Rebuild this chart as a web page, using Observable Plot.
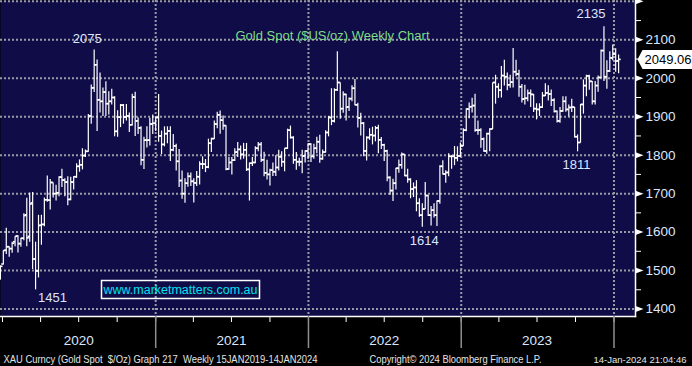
<!DOCTYPE html>
<html>
<head>
<meta charset="utf-8">
<script src="https://cdn.jsdelivr.net/npm/d3@7"></script>
<script src="https://cdn.jsdelivr.net/npm/@observablehq/plot@0.6"></script>
<style>
  html, body { margin: 0; padding: 0; background: #000; }
  #chart svg { display: block; }
</style>
</head>
<body>
<div id="chart"></div>
<script>
// Weekly OHLC bars [open, high, low, close], one per week (week ending Friday)
const bars2019 = [[1478,1514,1477,1511]];
const bars2020 = [
  [1517,1553,1516,1552],[1553,1611,1543,1562],[1562,1563,1536,1557],[1557,1575,1546,1571],[1575,1589,1563,1589],
  [1590,1592,1547,1570],[1570,1585,1562,1584],[1584,1649,1579,1643],[1645,1689,1563,1585],
  [1589,1703,1575,1673],[1676,1704,1504,1530],[1530,1575,1451,1499],[1499,1645,1482,1617],
  [1618,1645,1567,1620],[1620,1690,1615,1684],[1684,1747,1679,1683],[1683,1738,1659,1729],
  [1729,1729,1690,1700],[1700,1723,1682,1702],[1702,1745,1693,1743],[1743,1765,1717,1735],[1735,1740,1693,1730],
  [1730,1745,1670,1685],[1685,1744,1683,1730],[1730,1745,1711,1744],[1744,1779,1741,1771],
  [1771,1789,1757,1775],[1775,1818,1763,1799],[1799,1815,1795,1810],[1810,1907,1809,1902],[1902,1984,1882,1975],
  [1975,2075,1964,2035],[2035,2049,1863,1944],[1944,2015,1911,1940],[1940,1976,1902,1964],
  [1964,1992,1902,1934],[1934,1966,1906,1940],[1940,1973,1932,1950],[1950,1953,1849,1862],
  [1862,1917,1848,1899],[1899,1933,1873,1930],[1930,1933,1882,1899],[1899,1933,1890,1902],[1902,1911,1860,1879],
  [1879,1960,1877,1951],[1951,1965,1850,1889],[1889,1898,1855,1871],[1871,1875,1774,1788],
  [1788,1848,1764,1839],[1839,1875,1820,1839],[1839,1897,1825,1881],[1881,1906,1855,1883]
];
const bars2021 = [
  [1883,1900,1863,1898],[1898,1959,1835,1850],[1850,1864,1803,1828],[1828,1875,1823,1856],[1856,1875,1831,1863],
  [1863,1875,1785,1814],[1814,1855,1810,1824],[1824,1830,1760,1784],[1784,1816,1717,1734],
  [1734,1760,1687,1700],[1700,1740,1676,1727],[1727,1755,1718,1745],[1745,1755,1720,1732],
  [1732,1740,1677,1728],[1728,1759,1720,1744],[1744,1784,1724,1777],[1777,1797,1764,1777],[1777,1790,1756,1769],
  [1769,1843,1766,1831],[1831,1845,1808,1843],[1843,1890,1842,1881],[1881,1913,1870,1905],
  [1905,1916,1856,1891],[1891,1903,1866,1877],[1877,1878,1761,1764],[1764,1795,1762,1781],
  [1781,1795,1750,1787],[1787,1818,1785,1808],[1808,1834,1795,1815],[1815,1825,1789,1802],[1802,1832,1791,1814],
  [1814,1832,1759,1763],[1763,1781,1682,1779],[1779,1795,1772,1781],[1781,1823,1779,1818],
  [1818,1834,1810,1828],[1828,1834,1782,1788],[1788,1809,1745,1754],[1754,1788,1737,1750],
  [1750,1765,1721,1761],[1761,1781,1746,1757],[1757,1800,1746,1768],[1768,1814,1760,1796],[1796,1810,1770,1783],
  [1783,1818,1758,1818],[1818,1869,1816,1865],[1865,1877,1843,1846],[1846,1849,1778,1788],
  [1788,1808,1762,1783],[1783,1793,1771,1783],[1783,1814,1753,1798],[1798,1813,1781,1811],[1811,1831,1790,1829]
];
const bars2022 = [
  [1829,1831,1782,1797],[1797,1830,1791,1818],[1818,1848,1805,1835],[1835,1853,1780,1791],
  [1791,1815,1788,1808],[1808,1865,1807,1859],[1859,1902,1849,1898],[1898,1974,1878,1889],
  [1889,1974,1885,1970],[1970,2070,1967,1989],[1989,1989,1895,1921],[1921,1966,1910,1958],
  [1958,1960,1890,1925],[1925,1950,1915,1947],[1947,1982,1940,1974],[1974,1998,1930,1931],[1931,1936,1872,1897],
  [1897,1910,1851,1883],[1883,1886,1797,1811],[1811,1849,1786,1846],[1846,1870,1840,1853],
  [1853,1874,1828,1851],[1851,1876,1836,1871],[1871,1879,1805,1840],[1840,1847,1816,1827],
  [1827,1830,1785,1811],[1811,1814,1732,1742],[1742,1745,1697,1708],[1708,1739,1681,1727],[1727,1767,1711,1766],
  [1766,1789,1754,1775],[1775,1807,1765,1802],[1802,1802,1745,1747],[1747,1765,1728,1737],
  [1737,1740,1688,1712],[1712,1729,1691,1716],[1716,1735,1654,1675],[1675,1688,1640,1644],[1644,1675,1614,1660],
  [1660,1730,1660,1695],[1695,1697,1642,1644],[1644,1668,1617,1657],[1657,1675,1638,1644],
  [1644,1682,1616,1681],[1681,1774,1674,1771],[1771,1787,1750,1751],[1751,1761,1728,1755],
  [1755,1805,1745,1797],[1797,1800,1765,1797],[1797,1824,1774,1793],[1793,1823,1784,1798],[1798,1833,1795,1824]
];
const bars2023 = [
  [1824,1870,1824,1865],[1865,1922,1862,1920],[1920,1937,1896,1926],[1926,1949,1911,1929],
  [1929,1960,1861,1865],[1865,1890,1853,1865],[1865,1870,1819,1842],[1842,1846,1809,1811],
  [1811,1858,1804,1856],[1856,1870,1810,1868],[1868,1989,1868,1989],[1989,2009,1934,1978],[1978,1987,1949,1969],
  [1969,2032,1950,2007],[2007,2048,1981,2004],[2004,2015,1969,1983],[1983,2009,1975,1990],
  [1990,2079,1976,2017],[2017,2048,2005,2011],[2011,2022,1952,1978],[1978,1985,1937,1946],
  [1946,1983,1932,1948],[1948,1971,1940,1961],[1961,1971,1925,1958],[1958,1959,1912,1921],[1921,1935,1893,1919],
  [1919,1935,1902,1925],[1925,1964,1923,1955],[1955,1987,1954,1962],[1962,1982,1942,1959],
  [1959,1971,1928,1943],[1943,1948,1911,1914],[1914,1916,1885,1889],[1889,1925,1884,1915],
  [1915,1953,1913,1940],[1940,1953,1913,1919],[1919,1932,1901,1924],[1924,1947,1912,1925],[1925,1925,1846,1848],
  [1848,1854,1810,1833],[1833,1933,1833,1932],[1932,1997,1908,1981],[1981,2009,1953,2006],
  [2006,2009,1970,1992],[1992,1993,1932,1940],[1940,1993,1932,1981],[1981,2007,1965,2002],
  [2002,2075,2001,2072],[2072,2135,1993,2004],[2004,2047,1973,2019],[2019,2070,2016,2053],[2053,2088,2047,2063]
];
const bars2024 = [[2063,2078,2017,2045],[2045,2062,2013,2049.06]];

// Labels / ticks
const yMajor = [1400,1500,1600,1700,1800,1900,2000,2100];
const yMinor = [1450,1550,1650,1750,1850,1950,2050,2150];
const gridValues = [1400,1500,1600,1700,1800,1900,2000,2100,2200];
const yearLabels = ["2020","2021","2022","2023"];
const annotDates = ["2020-08-07","2020-03-20","2022-09-30","2023-10-06","2023-12-08"];
const annotValues = [2075,1451,1614,1810,2135];
const annotLabels = ["2075","1451","1614","1811","2135"];
const lastPrice = 2049.06;
const titleText = "Gold Spot ($US/oz) Weekly Chart";
const watermark = "www.marketmatters.com.au";
const footerLeft = "XAU Curncy (Gold Spot  $/Oz) Graph 217  Weekly 15JAN2019-14JAN2024";
const footerMid = "Copyright\u00A9 2024 Bloomberg Finance L.P.";
const footerRight = "14-Jan-2024 21:04:46";

// Build the table
const allBars = [...bars2019, ...bars2020, ...bars2021, ...bars2022, ...bars2023, ...bars2024];
const weeks = d3.utcFriday.range(new Date(Date.UTC(2019,11,27)), new Date(Date.UTC(2024,0,13)));
const rows = allBars.map((b, i) => ({date: weeks[i], open: b[0], high: b[1], low: b[2], close: b[3]}));
const DAY = 864e5;

const yearStarts = [2021,2022,2023,2024].map(y => new Date(Date.UTC(y,0,1)));
const yearMid = yearLabels.map(y => new Date(Date.UTC(+y,6,1)));
const quarterTicks = d3.utcMonth.every(3).range(new Date(Date.UTC(2020,0,1)), new Date(Date.UTC(2024,1,1)));

const NAVY = "#0f0c47";
const LABEL = "#dbe6ff";
const GRID = "#9a9aa6";

const rightTri = {draw(ctx) { ctx.moveTo(0,-3); ctx.lineTo(8,0); ctx.lineTo(0,3); ctx.closePath(); }};
const priceBox = {draw(ctx) { ctx.moveTo(2,0); ctx.lineTo(7,-9.5); ctx.lineTo(60,-9.5); ctx.lineTo(60,9.5); ctx.lineTo(7,9.5); ctx.closePath(); }};
const wmBox = {draw(ctx) { ctx.rect(-79,-9,158,18); }};

const annotOffsets = [[-7,-10.5],[17,8],[2,14],[-1,14],[-13,-12.5]];
const annotMarks = annotLabels.map((lab, i) => Plot.text([i], {
  x: j => new Date(annotDates[j]), y: j => annotValues[j], text: j => annotLabels[j],
  dx: annotOffsets[i][0], dy: annotOffsets[i][1], fill: LABEL, fontSize: 13
}));

const chart = Plot.plot({
  width: 692, height: 366,
  marginLeft: 0, marginRight: 57, marginTop: 0, marginBottom: 50,
  x: {type: "utc", domain: [new Date(Date.UTC(2019,11,27,5)), new Date(Date.UTC(2024,1,21,9))], axis: null},
  y: {domain: [1380.5, 2202.2], axis: null},
  style: {background: "#000", color: "white", fontFamily: "'Liberation Sans', Arial, sans-serif", fontSize: "13px", overflow: "visible"},
  marks: [
    Plot.frame({fill: NAVY, stroke: null}),
    Plot.ruleY(gridValues, {stroke: GRID, strokeWidth: 2, strokeDasharray: "2,2"}),
    Plot.ruleX(yearStarts, {stroke: GRID, strokeWidth: 2, strokeDasharray: "2,2"}),
    // OHLC bars
    Plot.link(rows, {x1: "date", x2: "date", y1: "low", y2: "high", stroke: "white", strokeWidth: 1.2, clip: true}),
    Plot.link(rows, {x1: d => new Date(+d.date - 5*DAY), x2: "date", y1: "open", y2: "open", stroke: "white", strokeWidth: 1.6, clip: true}),
    Plot.link(rows, {x1: "date", x2: d => new Date(+d.date + 5*DAY), y1: "close", y2: "close", stroke: "white", strokeWidth: 1.6, clip: true}),
    ...annotMarks,
    Plot.text([titleText], {frameAnchor: "top-left", dx: 332, dy: 35, lineAnchor: "middle", textAnchor: "middle", fill: "#7fdc86", fontSize: 12.5}),
    // watermark
    Plot.dot([0], {frameAnchor: "bottom-left", dx: 180, dy: -27, symbol: wmBox, stroke: "white", strokeWidth: 1.5, fill: "none"}),
    Plot.text([watermark], {frameAnchor: "bottom-left", dx: 180, dy: -27, lineAnchor: "middle", textAnchor: "middle", fill: "#00e2f2", fontSize: 12.5}),
    // axes lines
    Plot.frame({anchor: "right", stroke: "white", strokeWidth: 1.5}),
    Plot.frame({anchor: "bottom", stroke: "white", strokeWidth: 1.5}),
    // right axis
    Plot.axisY(yMinor, {anchor: "right", tickSize: 5, stroke: "white", fill: "none", label: null}),
    Plot.dot(gridValues, {y: d => d, frameAnchor: "right", symbol: rightTri, fill: "white", stroke: null}),
    Plot.axisY(yMajor, {anchor: "right", tickSize: 0, tickPadding: 10, fill: LABEL, fontSize: 13.5, label: null, tickFormat: d => String(d)}),
    // bottom axis
    Plot.axisX(quarterTicks, {tickSize: 6, stroke: "white", fill: "none", label: null}),
    Plot.axisX(yearStarts, {tickSize: 32, stroke: "#8f8f8f", strokeWidth: 1.5, fill: "none", label: null}),
    Plot.axisX(yearMid, {tickSize: 0, tickPadding: 19, fill: LABEL, fontSize: 13.5, label: null, tickFormat: d => yearLabels[yearMid.findIndex(m => +m === +d)]}),
    // last price
    Plot.dot([lastPrice], {y: d => d, frameAnchor: "right", symbol: priceBox, fill: "white", stroke: null}),
    Plot.text([lastPrice], {y: d => d, frameAnchor: "right", dx: 9, textAnchor: "start", text: d => d.toFixed(2), fill: "#000", fontSize: 13}),
    // footer
    Plot.text([footerLeft], {frameAnchor: "bottom-left", dx: 3, dy: 43, textAnchor: "start", lineAnchor: "middle", fill: "#e4e4e4", fontSize: 10.5}),
    Plot.text([footerMid], {frameAnchor: "bottom-left", dx: 369, dy: 43, textAnchor: "start", lineAnchor: "middle", fill: "#e4e4e4", fontSize: 10.5}),
    Plot.text([footerRight], {frameAnchor: "bottom-left", dx: 593, dy: 43, textAnchor: "start", lineAnchor: "middle", fill: "#e4e4e4", fontSize: 9.5})
  ]
});
document.getElementById("chart").appendChild(chart);

// fit text widths to the reference
const widths = new Map([[footerLeft, 314], [footerMid, 172], [titleText, 194], [watermark, 154]]);
d3.select(chart).selectAll("text").each(function() {
  const t = this.textContent;
  if (widths.has(t)) {
    this.setAttribute("textLength", widths.get(t));
    this.setAttribute("lengthAdjust", "spacingAndGlyphs");
    this.setAttribute("style", (this.getAttribute("style") || "") + ";white-space:pre");
  }
});
</script>
</body>
</html>
